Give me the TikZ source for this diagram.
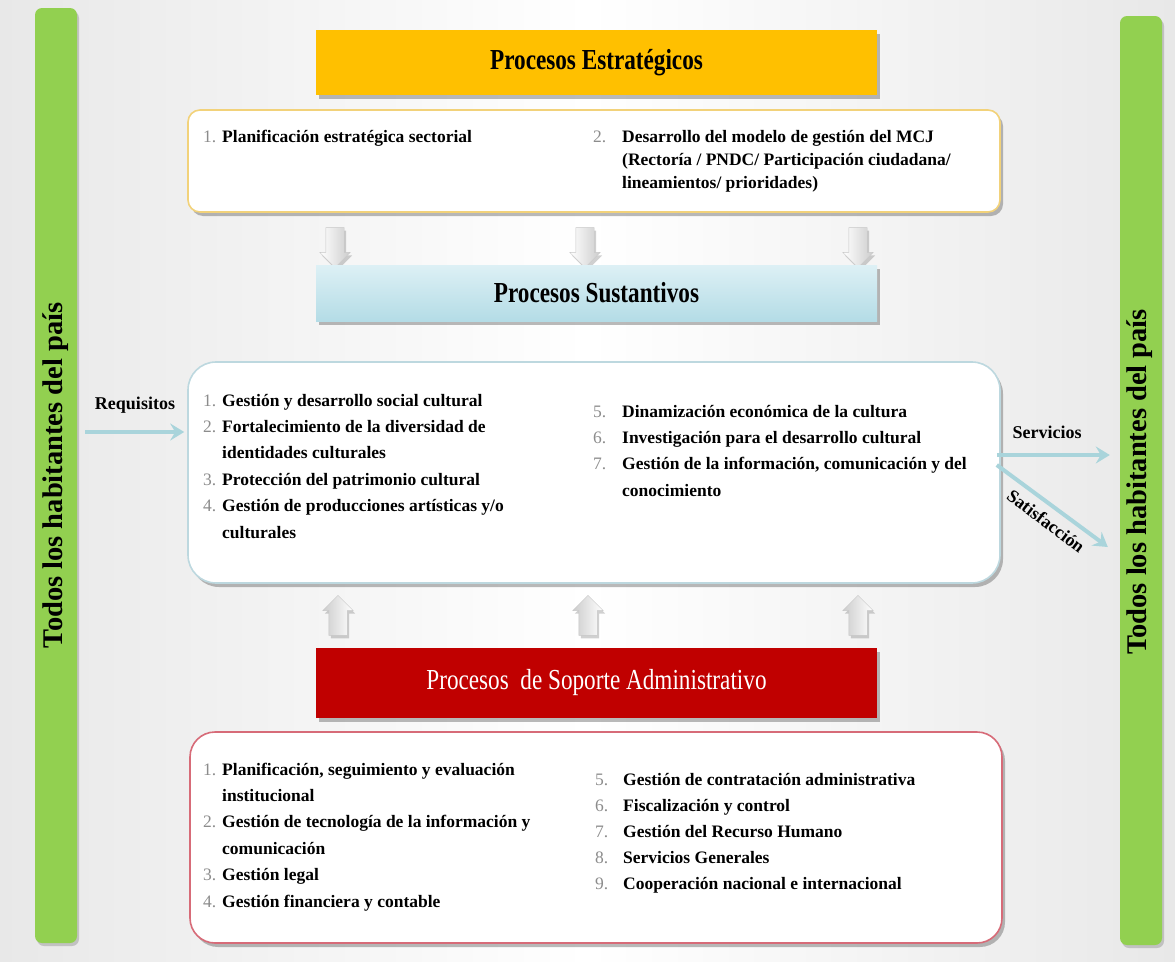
\documentclass[tikz,border=0pt]{standalone}
\usepackage{fontspec}
\setmainfont{Liberation Serif}
\newfontfamily\condfont[FakeStretch=0.8]{Liberation Serif}
\usetikzlibrary{shadows,shapes.arrows,arrows.meta,calc}
\definecolor{hdrOrange}{HTML}{FFC000}
\definecolor{sustTop}{HTML}{DDF0F5}
\definecolor{sustBot}{HTML}{B4DCE6}
\definecolor{supRed}{HTML}{C00000}
\definecolor{barGreen}{HTML}{92D050}
\definecolor{stratBorder}{HTML}{F2D27A}
\definecolor{mainBorder}{HTML}{BDD8DF}
\definecolor{supBorder}{HTML}{D76B78}
\definecolor{numgray}{HTML}{8C8C8C}
\definecolor{flowc}{HTML}{A9D4DB}
\newcommand\nm[1]{\textcolor{numgray}{\mdseries #1}}
\begin{document}
\begin{tikzpicture}[x=1pt,y=-1pt,
  shd/.style={drop shadow={shadow xshift=3pt,shadow yshift=-4pt,opacity=0.45,fill=black!60}},
  shdl/.style={drop shadow={shadow xshift=2pt,shadow yshift=-3pt,opacity=0.3,fill=black!60}},
  header/.style={rectangle, minimum width=561pt, inner sep=0pt, shd, font=\condfont\fontsize{29}{32}\selectfont},
  panel/.style={rectangle, fill=white, line width=1.6pt, minimum width=812pt, shd},
  bar/.style={rectangle, rounded corners=7pt, fill=barGreen, minimum width=42pt, shdl},
  sidetext/.style={rotate=90, inner sep=0pt, font=\fontsize{28.5}{30}\selectfont\bfseries},
  lst/.style={anchor=base west, inner sep=0pt, font=\fontsize{17.5}{26.4}\selectfont\bfseries},
  blk/.style={single arrow, draw=black!22, minimum height=40pt, minimum width=30pt, single arrow head extend=6pt, inner xsep=0pt, inner ysep=9pt, shdl},
  blkdown/.style={blk, left color=white, right color=black!20, rotate=-90},
  blkup/.style={blk, left color=black!20, right color=white, rotate=90},
  flow/.style={draw=flowc, line width=4pt, -{Stealth[length=14pt,width=17pt,inset=5pt]}},
  lbl/.style={inner sep=0pt, font=\fontsize{18}{20}\selectfont\bfseries}
]
\useasboundingbox (0,0) rectangle (1175,961);
\shade[left color=black!9, right color=black!9, middle color=white] (0,0) rectangle (1175,961);

% side bars
\node[bar, minimum height=935pt] (leftbar) at (56,475.5) {};
\node[sidetext] (lefttext) at (leftbar.center) {Todos los habitantes del país};
\node[bar, minimum height=929pt] (rightbar) at (1141,480.5) {};
\node[sidetext] (righttext) at (1140,482) {Todos los habitantes del país};

% strategic
\node[header, fill=hdrOrange, minimum height=65pt] (hestr) at (596.5,62.5) {\bfseries Procesos Estratégicos};
\node[panel, draw=stratBorder, rounded corners=12pt, minimum height=102pt] (pestr) at (594,161) {};
\node[lst, font=\fontsize{17.5}{23}\selectfont\bfseries] (e1) at (203,142) {\begin{tabular}[t]{@{}p{19pt}@{}l@{}}\nm{1.} & Planificación estratégica sectorial\end{tabular}};
\node[lst, font=\fontsize{17.5}{23}\selectfont\bfseries] (e2) at (593,142) {\begin{tabular}[t]{@{}p{29pt}@{}l@{}}\nm{2.} & Desarrollo del modelo de gestión del MCJ\\ & (Rectoría / PNDC/ Participación ciudadana/\\ & lineamientos/ prioridades)\end{tabular}};

% down arrows
\node[blkdown] (d1) at (335,243) {};
\node[blkdown] (d2) at (585,243) {};
\node[blkdown] (d3) at (858,243) {};

% sustantivos
\node[header, top color=sustTop, bottom color=sustBot, minimum height=56pt] (hsust) at (596.5,293) {\bfseries Procesos Sustantivos};
\node[panel, draw=mainBorder, rounded corners=28pt, minimum height=221pt] (pmain) at (594,472.5) {};
\node[lst] (m1) at (203,406) {\begin{tabular}[t]{@{}p{19pt}@{}l@{}}\nm{1.} & Gestión y desarrollo social cultural\\ \nm{2.} & Fortalecimiento de la diversidad de\\ & identidades culturales\\ \nm{3.} & Protección del patrimonio cultural\\ \nm{4.} & Gestión de producciones artísticas y/o\\ & culturales\end{tabular}};
\node[lst] (m2) at (593,417) {\begin{tabular}[t]{@{}p{29pt}@{}l@{}}\nm{5.} & Dinamización económica de la cultura\\ \nm{6.} & Investigación para el desarrollo cultural\\ \nm{7.} & Gestión de la información, comunicación y del\\ & conocimiento\end{tabular}};

% labels and flows
\node[lbl] (lreq) at (135,405) {Requisitos};
\node[lbl] (lserv) at (1047,432) {Servicios};
\node[lbl, rotate=-37] (lsat) at (1046,521) {Satisfacción};
\coordinate (ry) at (0,432);
\coordinate (sy) at (0,455);
\coordinate (sa) at (0,465);
\coordinate (sb) at (0,547);
\draw[flow] ([xshift=8pt]leftbar.east |- ry) -- ([xshift=-3pt]pmain.west |- ry);
\draw[flow] ([xshift=-4pt]pmain.east |- sy) -- ([xshift=-10pt]rightbar.west |- sy);
\draw[flow] ([xshift=-4pt]pmain.east |- sa) -- ([xshift=-12pt]rightbar.west |- sb);

% up arrows
\node[blkup] (u1) at (338,620) {};
\node[blkup] (u2) at (588,620) {};
\node[blkup] (u3) at (858,620) {};

% support
\node[header, fill=supRed, text=white, minimum height=70pt] (hsup) at (596.5,683) {Procesos\ \ de Soporte Administrativo};
\node[panel, draw=supBorder, rounded corners=25pt, minimum height=211pt] (psup) at (596,837.5) {};
\node[lst] (s1) at (203,775) {\begin{tabular}[t]{@{}p{19pt}@{}l@{}}\nm{1.} & Planificación, seguimiento y evaluación\\ & institucional\\ \nm{2.} & Gestión de tecnología de la información y\\ & comunicación\\ \nm{3.} & Gestión legal\\ \nm{4.} & Gestión financiera y contable\end{tabular}};
\node[lst, font=\fontsize{17.5}{26}\selectfont\bfseries] (s2) at (595,785) {\begin{tabular}[t]{@{}p{28pt}@{}l@{}}\nm{5.} & Gestión de contratación administrativa\\ \nm{6.} & Fiscalización y control\\ \nm{7.} & Gestión del Recurso Humano\\ \nm{8.} & Servicios Generales\\ \nm{9.} & Cooperación nacional e internacional\end{tabular}};
\end{tikzpicture}
\end{document}
